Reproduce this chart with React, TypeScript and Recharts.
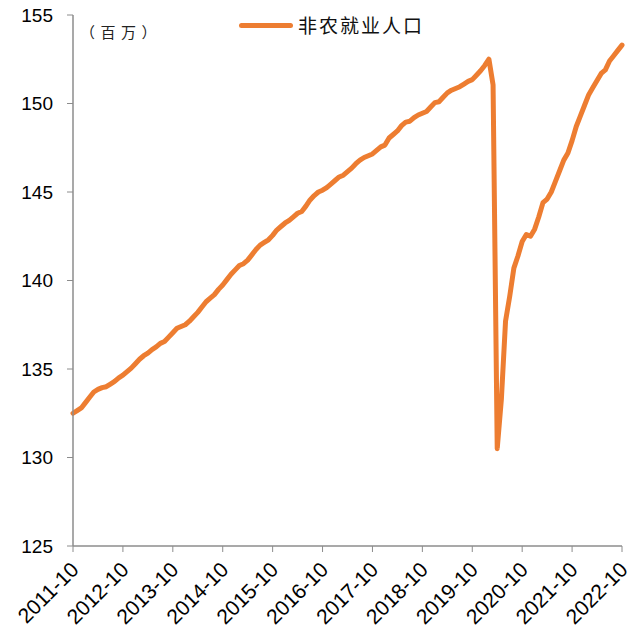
import { Line, LineChart, XAxis, YAxis } from 'recharts'

// 非农就业人口，月度，2011-10 起（百万）
const payrolls = [
  132.5, 132.65, 132.8, 133.1, 133.4, 133.7, 133.85, 133.95, 134.0, 134.15, 134.3, 134.5,
  134.65, 134.85, 135.05, 135.3, 135.55, 135.75, 135.9, 136.1, 136.25, 136.45, 136.55, 136.8,
  137.05, 137.3, 137.4, 137.5, 137.7, 137.95, 138.2, 138.5, 138.8, 139.0, 139.2, 139.5,
  139.75, 140.05, 140.35, 140.6, 140.85, 140.95, 141.15, 141.45, 141.75, 142.0, 142.15, 142.3,
  142.55, 142.85, 143.05, 143.25, 143.4, 143.6, 143.8, 143.9, 144.2, 144.55, 144.8, 145.0,
  145.1, 145.25, 145.45, 145.65, 145.85, 145.95, 146.15, 146.35, 146.6, 146.8, 146.95, 147.05,
  147.15, 147.35, 147.55, 147.65, 148.05, 148.25, 148.45, 148.75, 148.95, 149.0, 149.2, 149.35,
  149.45, 149.55, 149.8, 150.05, 150.1, 150.35, 150.6, 150.75, 150.85, 150.95, 151.1, 151.25,
  151.35, 151.6, 151.85, 152.15, 152.5, 151.05, 130.5, 133.3, 137.7, 139.1, 140.7, 141.4,
  142.2, 142.6, 142.5, 142.9, 143.6, 144.4, 144.6, 145.0, 145.6, 146.2, 146.8, 147.2,
  147.9, 148.7, 149.3, 149.9, 150.5, 150.9, 151.3, 151.7, 151.9, 152.4, 152.7, 153.0,
  153.3,
]

const startYear = 2011
const startMonth = 10
const yTicks = [125, 130, 135, 140, 145, 150, 155]

const monthLabel = (i: number) => {
  const m = startMonth - 1 + i
  const y = startYear + Math.floor(m / 12)
  const mm = (m % 12) + 1
  return `${y}-${mm}`
}

const data = payrolls.map((v, i) => ({ month: monthLabel(i), value: v }))

const AXIS = '#8c8c8c'
const ORANGE = '#ED7D31'
const FONT = 'Arial, "Liberation Sans", sans-serif'
const CJK = '"Noto Sans CJK SC", sans-serif'

function MonthTick(props: any) {
  const { x, y, payload } = props
  const ax = x + 7
  const ay = y + 17
  return (
    <text
      x={ax}
      y={ay}
      transform={`rotate(-45 ${ax} ${ay})`}
      textAnchor="end"
      fontSize={21}
      fontFamily={FONT}
      fill="#000"
    >
      {payload.value}
    </text>
  )
}

export default function App() {
  return (
    <div style={{ position: 'absolute', left: 0, top: 0, width: 637, height: 627, background: '#fff' }}>
      <LineChart width={637} height={627} data={data} margin={{ top: 15, right: 15, bottom: 11, left: 0 }}>
        <XAxis
          dataKey="month"
          interval={11}
          height={70}
          tick={<MonthTick />}
          tickLine={{ stroke: AXIS }}
          tickSize={6}
          axisLine={{ stroke: AXIS, strokeWidth: 1.5 }}
        />
        <YAxis
          domain={[125, 155]}
          ticks={yTicks}
          width={73}
          tickSize={6}
          tickMargin={14}
          tickLine={{ stroke: AXIS }}
          axisLine={{ stroke: AXIS, strokeWidth: 1.5 }}
          tick={{ fontSize: 19, fontFamily: FONT, fill: '#000' }}
        />
        <Line
          type="linear"
          dataKey="value"
          stroke={ORANGE}
          strokeWidth={5}
          dot={false}
          strokeLinejoin="round"
          strokeLinecap="round"
          isAnimationActive={false}
        />
      </LineChart>
      <div
        style={{
          position: 'absolute',
          left: 80,
          top: 20,
          fontSize: 15,
          fontFamily: CJK,
          letterSpacing: 5.5,
          color: '#222',
          lineHeight: '24px',
        }}
      >
        （百万）
      </div>
      <div style={{ position: 'absolute', left: 239, top: 13, display: 'flex', alignItems: 'center' }}>
        <div style={{ width: 54, height: 5, borderRadius: 3, background: ORANGE }} />
        <span
          style={{
            marginLeft: 5,
            fontSize: 19,
            fontFamily: CJK,
            letterSpacing: 2,
            color: '#111',
            lineHeight: '24px',
          }}
        >
          非农就业人口
        </span>
      </div>
    </div>
  )
}
